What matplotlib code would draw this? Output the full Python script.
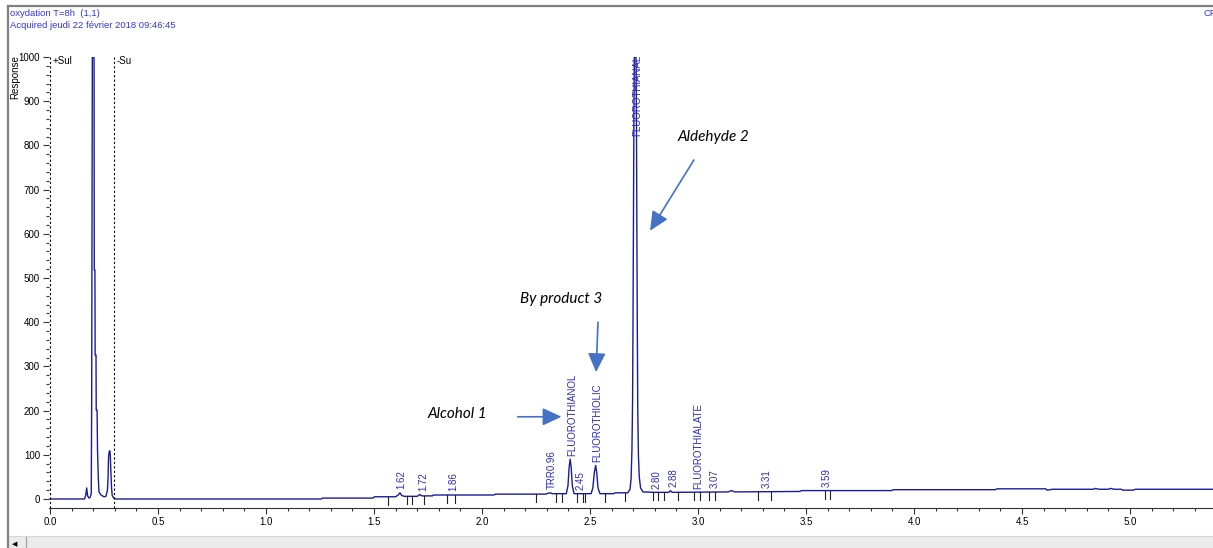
import numpy as np
import matplotlib.pyplot as plt
from matplotlib.patches import Rectangle
from matplotlib.lines import Line2D

plt.rcParams['font.family'] = ['Liberation Sans', 'DejaVu Sans']

# chromatogram trace: retention time (min) / detector response
rt = [0.000, 0.160, 0.165, 0.170, 0.174, 0.181, 0.186, 0.191, 0.193, 0.196,
      0.204, 0.205, 0.208, 0.209, 0.213, 0.214, 0.218, 0.220, 0.224, 0.227,
      0.236, 0.250, 0.259, 0.266, 0.269, 0.271, 0.274, 0.277, 0.279, 0.282,
      0.285, 0.288, 0.295, 0.305,
      1.255, 1.262, 1.495, 1.502, 1.600, 1.612, 1.620, 1.628, 1.640, 1.700,
      1.712, 1.722, 1.770, 1.775, 2.055, 2.062, 2.295, 2.300, 2.315, 2.325,
      2.390, 2.398, 2.403, 2.408, 2.413, 2.418, 2.426, 2.505, 2.513, 2.520,
      2.526, 2.531, 2.537, 2.546, 2.610, 2.615, 2.675, 2.685, 2.690, 2.694,
      2.697, 2.699, 2.701, 2.703, 2.705, 2.713, 2.715, 2.717, 2.719, 2.721,
      2.724, 2.728, 2.734, 2.745, 2.800, 2.865, 2.872, 2.880, 3.140, 3.155,
      3.170, 3.470, 3.480, 3.895, 3.905, 4.375, 4.385, 4.610, 4.615, 4.630,
      4.640, 4.830, 4.840, 4.855, 4.900, 4.910, 4.925, 4.960, 4.965, 5.015,
      5.025, 5.400]
resp = [0, 0, 8, 25, 7, 2, 4, 12, 224, 1000,
        1000, 518, 518, 326, 326, 201, 201, 111, 43, 16,
        9, 5, 6, 20, 50, 95, 107, 109, 100, 60,
        25, 8, 2, 0,
        0, 2, 2, 5, 5, 9, 14, 8, 6, 6,
        10, 7, 7, 9, 9, 11, 11, 12, 14, 12,
        12, 30, 70, 90, 70, 30, 12, 12, 25, 60,
        76, 60, 25, 12, 12, 14, 14, 22, 45, 110,
        220, 400, 620, 850, 1000, 1000, 850, 600, 380, 200,
        100, 50, 25, 16, 15, 15, 19, 15, 16, 19,
        16, 17, 19, 19, 21, 21, 23, 23, 20, 21,
        22, 22, 24, 22, 22, 24, 22, 22, 20, 20,
        22, 22]

# peak labels
peak_rt = [1.62, 1.72, 1.86, 2.318, 2.41, 2.45, 2.527, 2.712, 2.80, 2.88,
           2.994, 3.07, 3.31, 3.59]
peak_names = ['1.62', '1.72', '1.86', 'TRR0.96', 'FLUOROTHIANOL', '2.45',
              'FLUOROTHIOLIC', 'FLUOROTHIANAL', '2.80', '2.88',
              'FLUOROTHIALATE', '3.07', '3.31', '3.59']

# integration start/stop marks
marks = [1.563, 1.651, 1.677, 1.733, 1.84, 1.875, 2.25, 2.343, 2.37, 2.44,
         2.466, 2.477, 2.57, 2.66, 2.79, 2.815, 2.843, 2.906, 2.98, 3.009,
         3.05, 3.079, 3.278, 3.337, 3.588, 3.611]

# events
event_rt = [0.0, 0.295]
event_names = ['+Sul', '-Su']

W, H = 1213, 548
fig = plt.figure(figsize=(W / 100, H / 100), dpi=100)

def fx(px):
    return px / W

def fy(py):
    return 1 - py / H

ax = fig.add_axes([fx(49), fy(508), fx(W - 49), fy(57) - fy(508)])
ax.set_xlim(-0.0046, 5.384)
ax.set_ylim(-20.4, 1000)

trace_col = '#1a1a9c'
label_col = '#2b2bc0'
ax.plot(rt, resp, color=trace_col, lw=1.0)

for t in event_rt:
    ax.axvline(t, color='black', lw=0.8, ls=(0, (2, 2)))
for t, name in zip(event_rt, event_names):
    ax.text(t + 0.012, 990, name, fontsize=7, va='center', ha='left')

for t in marks:
    b = np.interp(t, rt, resp)
    ax.plot([t, t], [b, b - 18], color='#222222', lw=0.8)

rt_arr = np.array(rt)
resp_arr = np.array(resp)
for t, name in zip(peak_rt, peak_names):
    win = (rt_arr >= t - 0.012) & (rt_arr <= t + 0.012)
    top = max(resp_arr[win].max() if win.any() else 0, np.interp(t, rt, resp))
    y = min(top + 8, 822)
    ax.text(t + 0.006, y, name, rotation=90, fontsize=7, color=label_col,
            ha='center', va='bottom')

# annotations
arrow = dict(arrowstyle='-|>,head_length=0.58,head_width=0.27', color='#4472C4',
             lw=1.2, mutation_scale=20, shrinkA=0, shrinkB=0)
ax.annotate('', xy=(2.778, 607), xytext=(2.981, 767), arrowprops=arrow)
ax.annotate('', xy=(2.528, 287), xytext=(2.537, 400), arrowprops=arrow)
ax.annotate('', xy=(2.368, 186), xytext=(2.165, 186), arrowprops=arrow)
note = dict(fontsize=11, style='italic', family=['Lato', 'DejaVu Sans'],
            ha='center', va='center', color='black')
ax.text(3.07, 819, 'Aldehyde 2', **note)
ax.text(2.366, 452, 'By product 3', **note)
ax.text(1.884, 192, 'Alcohol 1', **note)

# axes styling
for s in ['top', 'right', 'left']:
    ax.spines[s].set_visible(False)
ax.spines['bottom'].set_color('#333333')
ax.set_xticks(np.arange(0, 5.01, 0.5))
ax.set_xticks(np.arange(0, 5.4, 0.1), minor=True)
ax.set_yticks(np.arange(0, 1001, 100))
ax.set_yticks(np.arange(0, 1001, 20), minor=True)
ax.xaxis.set_major_formatter(plt.FormatStrFormatter('%.1f'))
ax.tick_params(axis='both', which='major', labelsize=7, length=4.5, width=0.8,
               color='#333333', pad=2)
ax.tick_params(axis='both', which='minor', length=2.2, width=0.8, color='#333333')

fig.text(fx(15), fy(77), 'Response', rotation=90, fontsize=7,
         ha='center', va='center')

# header
head_col = '#3535e0'
fig.text(fx(10), fy(14), 'oxydation T=8h  (1,1)', fontsize=6.8, color=head_col,
         ha='left', va='center')
fig.text(fx(10), fy(26), 'Acquired jeudi 22 février 2018 09:46:45', fontsize=6.8,
         color=head_col, ha='left', va='center')
fig.text(fx(1203), fy(14), 'CF', fontsize=6.8, color=head_col,
         ha='left', va='center')

# window frame and scroll bar
fig.add_artist(Line2D([fx(8), fx(W)], [fy(6), fy(6)], color='#808080', lw=1.6))
fig.add_artist(Line2D([fx(8), fx(8)], [fy(6), fy(H)], color='#808080', lw=1.6))
fig.add_artist(Rectangle((fx(9), 0), fx(W - 9), fy(536), color='#ebebeb', lw=0))
fig.add_artist(Line2D([fx(9), fx(W)], [fy(536), fy(536)], color='#d6d6d6', lw=0.8))
fig.add_artist(Line2D([fx(26), fx(26)], [fy(537), fy(H)], color='#a0a0a0', lw=0.8))
fig.text(fx(15), fy(544), '◀', fontsize=5, color='black', ha='center',
         va='center', family='DejaVu Sans')

fig.savefig('out.png', dpi=100)
